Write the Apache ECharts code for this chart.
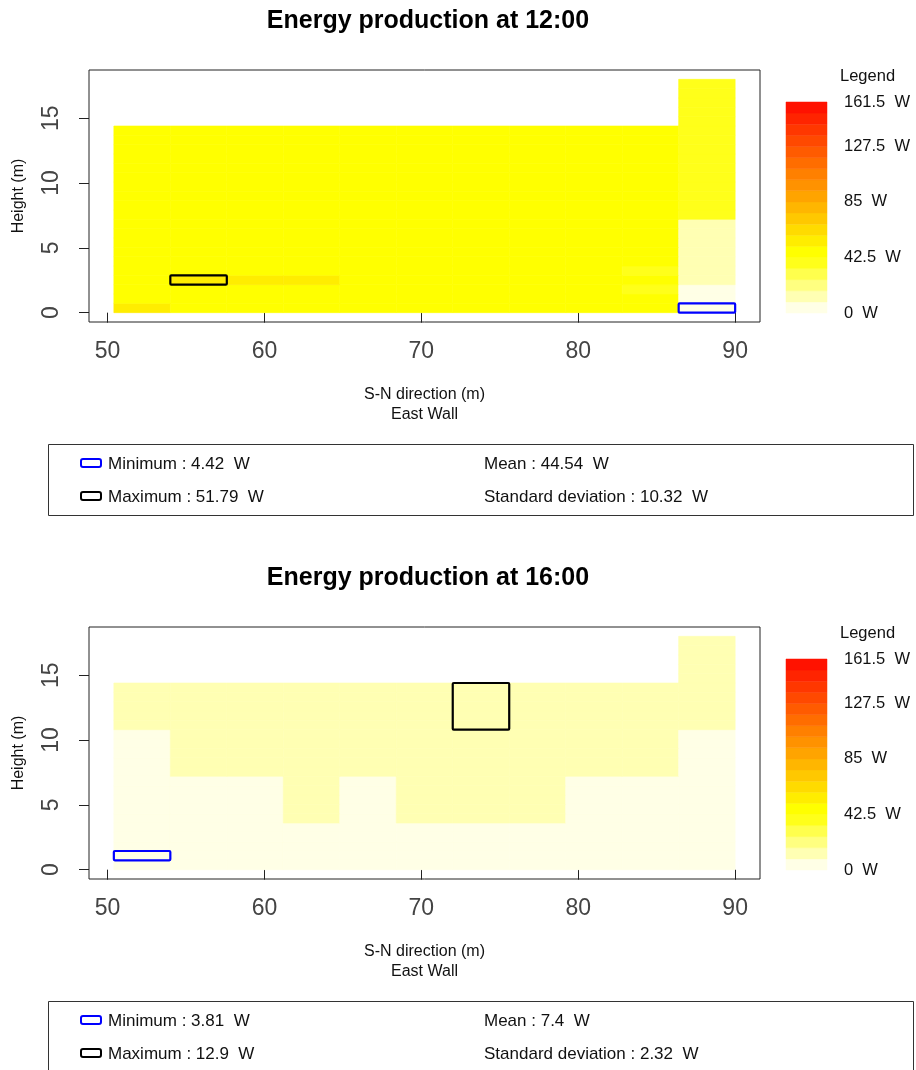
<!DOCTYPE html>
<html>
<head>
<meta charset="utf-8">
<title>Energy production – East Wall</title>
<script src="https://cdn.jsdelivr.net/npm/echarts@6/dist/echarts.min.js"></script>
<style>
  html, body { margin: 0; padding: 0; background: #ffffff; }
  #chart { width: 916px; height: 1070px; }
</style>
</head>
<body>
<div id="chart"></div>
<script>
// ---- Grid geometry of the wall (metres) ----
const colEdges = [50.4, 54, 57.6, 61.2, 64.8, 68.4, 72, 75.6, 79.2, 82.8, 86.4, 90];
const rowEdges = [0, 0.72, 1.44, 2.16, 2.88, 3.6, 4.32, 5.04, 5.76, 6.48, 7.2, 7.92, 8.64, 9.36,
                  10.08, 10.8, 11.52, 12.24, 12.96, 13.68, 14.4, 15.12, 15.84, 16.56, 17.28, 18];

// ---- Energy per panel cell (W); row 0 is at ground level, one value per column ----
const noonRows = [
  [51.1, 47.2, 46.8, 46.5, 46.9, 47.0, 46.7, 46.4, 46.2, 45.1, 4.42],
  [47.6, 47.9, 47.3, 47.0, 47.2, 47.3, 47.0, 46.8, 46.5, 45.6, 6.3],
  [48.0, 48.3, 47.8, 47.5, 47.6, 47.7, 47.4, 47.1, 46.8, 42.1, 7.6],
  [48.4, 51.79, 51.3, 51.1, 48.0, 48.0, 47.7, 47.4, 47.1, 46.0, 10.2],
  [48.1, 48.6, 48.2, 47.9, 47.8, 47.8, 47.5, 47.2, 46.9, 41.8, 11.4],
  [47.9, 48.3, 48.0, 47.7, 47.6, 47.6, 47.3, 47.0, 46.8, 45.8, 12.1],
  [47.7, 48.1, 47.8, 47.5, 47.4, 47.4, 47.1, 46.9, 46.6, 45.9, 12.8],
  [47.5, 47.9, 47.6, 47.3, 47.2, 47.2, 47.0, 46.7, 46.5, 46.0, 13.5],
  [47.4, 47.7, 47.4, 47.2, 47.1, 47.1, 46.8, 46.6, 46.4, 46.1, 14.3],
  [47.2, 47.5, 47.3, 47.0, 46.9, 46.9, 46.7, 46.5, 46.3, 46.1, 15.2],
  [47.1, 47.4, 47.1, 46.9, 46.8, 46.8, 46.6, 46.4, 46.2, 46.2, 35.6],
  [47.0, 47.3, 47.0, 46.8, 46.7, 46.7, 46.5, 46.3, 46.1, 46.1, 36.4],
  [46.9, 47.2, 46.9, 46.7, 46.6, 46.6, 46.4, 46.2, 46.0, 46.0, 37.1],
  [46.8, 47.1, 46.8, 46.6, 46.5, 46.5, 46.3, 46.1, 45.9, 45.9, 37.8],
  [46.7, 47.0, 46.7, 46.5, 46.4, 46.4, 46.2, 46.0, 45.8, 45.8, 38.3],
  [46.6, 46.9, 46.6, 46.4, 46.3, 46.3, 46.1, 45.9, 45.7, 45.7, 38.9],
  [46.5, 46.8, 46.5, 46.3, 46.2, 46.2, 46.0, 45.8, 45.6, 45.6, 39.3],
  [46.4, 46.7, 46.4, 46.2, 46.1, 46.1, 45.9, 45.7, 45.5, 45.5, 39.7],
  [46.3, 46.6, 46.3, 46.1, 46.0, 46.0, 45.8, 45.6, 45.4, 45.4, 40.1],
  [46.1, 46.4, 46.1, 45.9, 45.8, 45.8, 45.6, 45.4, 45.2, 45.2, 40.4],
  [null, null, null, null, null, null, null, null, null, null, 40.7],
  [null, null, null, null, null, null, null, null, null, null, 40.9],
  [null, null, null, null, null, null, null, null, null, null, 41.1],
  [null, null, null, null, null, null, null, null, null, null, 41.3],
  [null, null, null, null, null, null, null, null, null, null, 41.5]
];
const afternoonRows = [
  [4.2, 4.9, 5.3, 5.6, 5.8, 5.9, 6.0, 6.0, 5.9, 5.7, 5.1],
  [3.81, 5.1, 5.5, 5.8, 6.0, 6.1, 6.2, 6.2, 6.1, 5.9, 5.3],
  [4.3, 5.3, 5.7, 6.0, 6.2, 6.3, 6.4, 6.4, 6.3, 6.1, 5.5],
  [4.5, 5.5, 5.9, 6.2, 6.4, 6.5, 6.6, 6.6, 6.5, 6.3, 5.7],
  [4.7, 5.7, 6.1, 6.4, 6.6, 6.7, 6.8, 6.8, 6.7, 6.5, 5.9],
  [5.0, 6.4, 7.2, 8.6, 8.1, 8.7, 8.9, 8.7, 8.0, 7.2, 6.1],
  [5.2, 6.6, 7.4, 8.8, 8.2, 8.9, 9.1, 8.9, 8.2, 7.4, 6.3],
  [5.4, 6.8, 7.6, 9.0, 8.3, 9.1, 9.3, 9.1, 8.3, 7.6, 6.5],
  [5.6, 7.0, 7.8, 9.1, 8.4, 9.2, 9.5, 9.2, 8.4, 7.8, 6.7],
  [5.8, 7.2, 8.0, 9.3, 8.4, 9.4, 9.7, 9.4, 8.4, 8.0, 6.9],
  [6.4, 8.7, 9.0, 9.4, 9.3, 9.6, 10.2, 9.6, 9.1, 8.8, 7.2],
  [6.7, 8.9, 9.2, 9.6, 9.5, 9.8, 10.4, 9.8, 9.3, 9.0, 7.5],
  [7.0, 9.1, 9.4, 9.8, 9.7, 10.0, 10.6, 10.0, 9.5, 9.2, 7.8],
  [7.3, 9.3, 9.6, 10.0, 9.9, 10.2, 10.9, 10.2, 9.7, 9.4, 8.1],
  [7.6, 9.5, 9.8, 10.2, 10.1, 10.4, 11.1, 10.4, 9.9, 9.6, 8.4],
  [8.8, 10.1, 10.4, 10.8, 10.7, 11.0, 12.9, 11.0, 10.5, 10.2, 9.3],
  [9.0, 10.3, 10.6, 11.0, 10.9, 11.2, 12.9, 11.2, 10.7, 10.4, 9.5],
  [9.2, 10.5, 10.8, 11.2, 11.1, 11.4, 12.9, 11.4, 10.9, 10.6, 9.7],
  [9.3, 10.6, 10.9, 11.3, 11.2, 11.5, 12.9, 11.5, 11.0, 10.7, 9.9],
  [9.4, 10.7, 11.0, 11.4, 11.3, 11.6, 12.9, 11.6, 11.1, 10.8, 10.1],
  [null, null, null, null, null, null, null, null, null, null, 10.3],
  [null, null, null, null, null, null, null, null, null, null, 10.5],
  [null, null, null, null, null, null, null, null, null, null, 10.6],
  [null, null, null, null, null, null, null, null, null, null, 10.7],
  [null, null, null, null, null, null, null, null, null, null, 10.8]
];

// ---- Colour scale (W) ----
const bandBreaks = [0, 8.5, 17, 25.5, 34, 42.5, 51, 59.5, 68, 76.5, 85, 93.5, 102, 110.5,
                    119, 127.5, 136, 144.5, 153, 161.5];
const bandColors = ['#FFFFE6', '#FFFFB3', '#FFFF80', '#FFFF4D', '#FFFF1A', '#FFFF00', '#FFED00',
                    '#FFDB00', '#FFC800', '#FFB600', '#FFA400', '#FF9200', '#FF8000', '#FF6D00',
                    '#FF5B00', '#FF4900', '#FF3700', '#FF2400', '#FF1200'];
const legendTicks = [0, 42.5, 85, 127.5, 161.5];

// ---- Axis ticks and texts ----
const xTicks = [50, 60, 70, 80, 90];
const yTicks = [0, 5, 10, 15];
const panelTitles = ['Energy production at 12:00', 'Energy production at 16:00'];
const panelMeans = [44.54, 7.4];
const panelStdDevs = [10.32, 2.32];

const FONT = '"Liberation Sans", Arial, Helvetica, sans-serif';

function cellsOf(rows) {
  const out = [];
  rows.forEach((row, r) => row.forEach((v, c) => {
    if (v === null) return;
    out.push([colEdges[c], colEdges[c + 1], rowEdges[r], rowEdges[r + 1], v]);
  }));
  return out;
}
function colorOf(v) {
  for (let i = 0; i < bandColors.length; i++) {
    if (v < bandBreaks[i + 1]) return bandColors[i];
  }
  return bandColors[bandColors.length - 1];
}
// Bounding rectangle of all cells holding the given value
function boxAround(cells, value) {
  const hit = cells.filter(d => d[4] === value);
  return [Math.min(...hit.map(d => d[0])), Math.max(...hit.map(d => d[1])),
          Math.min(...hit.map(d => d[2])), Math.max(...hit.map(d => d[3]))];
}

const xSpan = colEdges[colEdges.length - 1] - colEdges[0];
const ySpan = rowEdges[rowEdges.length - 1] - rowEdges[0];
const xMin = colEdges[0] - 0.04 * xSpan, xMax = colEdges[colEdges.length - 1] + 0.04 * xSpan;
const yMin = rowEdges[0] - 0.04 * ySpan, yMax = rowEdges[rowEdges.length - 1] + 0.04 * ySpan;

const panels = [noonRows, afternoonRows];
const panelOffset = [0, 557];

const grids = [], xAxes = [], yAxes = [], series = [], graphics = [];

function renderCell(params, api) {
  const p0 = api.coord([api.value(0), api.value(3)]);
  const p1 = api.coord([api.value(1), api.value(2)]);
  const col = colorOf(api.value(4));
  return {
    type: 'rect',
    shape: { x: p0[0], y: p0[1], width: p1[0] - p0[0], height: p1[1] - p0[1] },
    style: { fill: col, stroke: col, lineWidth: 0.6 }
  };
}
function boxRenderer(color) {
  return function (params, api) {
    const p0 = api.coord([api.value(0), api.value(3)]);
    const p1 = api.coord([api.value(1), api.value(2)]);
    return {
      type: 'rect',
      z2: 10,
      shape: { x: p0[0], y: p0[1], width: p1[0] - p0[0], height: p1[1] - p0[1], r: 1 },
      style: { fill: null, stroke: color, lineWidth: 2.2, lineJoin: 'round' }
    };
  };
}
function renderBand(params, api) {
  const i = api.value(2);
  const p0 = api.coord([0, api.value(1)]);
  const p1 = api.coord([1, api.value(0)]);
  return {
    type: 'rect',
    shape: { x: p0[0], y: p0[1], width: p1[0] - p0[0], height: p1[1] - p0[1] },
    style: { fill: bandColors[i], stroke: bandColors[i], lineWidth: 0.5 }
  };
}

panels.forEach((rows, k) => {
  const off = panelOffset[k];
  const cells = cellsOf(rows);
  const values = cells.map(d => d[4]);
  const vMin = Math.min(...values), vMax = Math.max(...values);
  const gi = grids.length;

  // Heat map panel
  grids.push({ left: 89, top: 70 + off, width: 671, height: 252, show: true,
               borderColor: '#222', borderWidth: 1, backgroundColor: 'transparent' });
  xAxes.push({
    gridIndex: gi, type: 'value', min: xMin, max: xMax,
    axisLine: { show: false },
    axisTick: { show: true, length: 10, customValues: xTicks, lineStyle: { color: '#222', width: 1 } },
    axisLabel: { customValues: xTicks, fontSize: 23, color: '#444', margin: 18, fontFamily: FONT },
    splitLine: { show: false },
    name: 'S-N direction (m)\nEast Wall', nameLocation: 'middle', nameGap: 63,
    nameTextStyle: { fontSize: 16, lineHeight: 20, color: '#111', fontFamily: FONT }
  });
  yAxes.push({
    gridIndex: gi, type: 'value', min: yMin, max: yMax,
    axisLine: { show: false },
    axisTick: { show: true, length: 10, customValues: yTicks, lineStyle: { color: '#222', width: 1 } },
    axisLabel: { customValues: yTicks, rotate: 90, fontSize: 23, color: '#444', margin: 26, fontFamily: FONT },
    splitLine: { show: false },
    name: 'Height (m)', nameLocation: 'middle', nameGap: 62,
    nameTextStyle: { fontSize: 16, color: '#111', fontFamily: FONT }
  });
  series.push({
    type: 'custom', name: panelTitles[k], xAxisIndex: gi, yAxisIndex: gi,
    data: cells, encode: { x: [0, 1], y: [2, 3] }, renderItem: renderCell, silent: true
  });
  series.push({
    type: 'custom', name: 'Minimum', xAxisIndex: gi, yAxisIndex: gi, z: 3,
    data: [boxAround(cells, vMin)], renderItem: boxRenderer('#0000FF'), silent: true
  });
  series.push({
    type: 'custom', name: 'Maximum', xAxisIndex: gi, yAxisIndex: gi, z: 3,
    data: [boxAround(cells, vMax)], renderItem: boxRenderer('#000000'), silent: true
  });

  // Colour legend bar
  const li = grids.length;
  grids.push({ left: 786, top: 102 + off, width: 41, height: 211 });
  xAxes.push({ gridIndex: li, type: 'value', min: 0, max: 1, show: false });
  yAxes.push({
    gridIndex: li, type: 'value', min: bandBreaks[0], max: bandBreaks[bandBreaks.length - 1],
    position: 'right',
    axisLine: { show: false }, axisTick: { show: false }, splitLine: { show: false },
    axisLabel: { customValues: legendTicks, formatter: v => v + '  W', fontSize: 16.5,
                 color: '#111', margin: 17, fontFamily: FONT }
  });
  series.push({
    type: 'custom', name: 'Legend', xAxisIndex: li, yAxisIndex: li, silent: true,
    data: bandColors.map((c, i) => [bandBreaks[i], bandBreaks[i + 1], i]),
    encode: { y: [0, 1] }, renderItem: renderBand
  });

  // Titles and summary box
  graphics.push({
    type: 'text', x: 428, y: 21 + off,
    style: { text: panelTitles[k], fill: '#000', font: 'bold 25px ' + FONT,
             textAlign: 'center', textVerticalAlign: 'middle' }
  });
  graphics.push({
    type: 'text', x: 840, y: 76 + off,
    style: { text: 'Legend', fill: '#111', font: '16.5px ' + FONT, textVerticalAlign: 'middle' }
  });
  const by = 444 + off;
  graphics.push({
    type: 'rect', shape: { x: 48.5, y: by + 0.5, width: 865, height: 71 },
    style: { fill: null, stroke: '#333', lineWidth: 1 }
  });
  graphics.push({
    type: 'rect', shape: { x: 81, y: by + 15, width: 20, height: 8, r: 2 },
    style: { fill: null, stroke: '#0000FF', lineWidth: 2 }
  });
  graphics.push({
    type: 'rect', shape: { x: 81, y: by + 48, width: 20, height: 8, r: 2 },
    style: { fill: null, stroke: '#000000', lineWidth: 2 }
  });
  const statText = (x, y, t) => graphics.push({
    type: 'text', x: x, y: by + y,
    style: { text: t, fill: '#111', font: '17px ' + FONT, textVerticalAlign: 'middle' }
  });
  statText(108, 20.5, 'Minimum : ' + vMin + '  W');
  statText(108, 53.5, 'Maximum : ' + vMax + '  W');
  statText(484, 20.5, 'Mean : ' + panelMeans[k] + '  W');
  statText(484, 53.5, 'Standard deviation : ' + panelStdDevs[k] + '  W');
});

const chart = echarts.init(document.getElementById('chart'), null, { renderer: 'canvas' });
chart.setOption({
  animation: false,
  backgroundColor: '#ffffff',
  textStyle: { fontFamily: FONT },
  grid: grids,
  xAxis: xAxes,
  yAxis: yAxes,
  series: series,
  graphic: graphics
});
</script>
</body>
</html>
